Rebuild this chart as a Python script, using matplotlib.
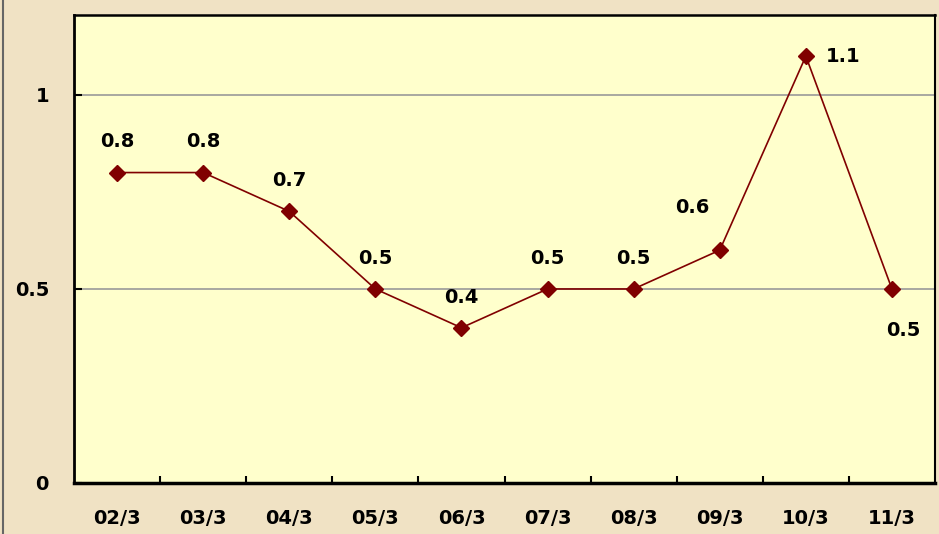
import matplotlib as mpl
import matplotlib.pyplot as plt
import numpy as np

mpl.rcParams['font.family'] = ['DejaVu Sans']

categories = ['02/3', '03/3', '04/3', '05/3', '06/3', '07/3', '08/3', '09/3', '10/3', '11/3']
values = [0.8, 0.8, 0.7, 0.5, 0.4, 0.5, 0.5, 0.6, 1.1, 0.5]
labels = ['0.8', '0.8', '0.7', '0.5', '0.4', '0.5', '0.5', '0.6', '1.1', '0.5']
# label offsets in points (dx, dy)
label_offsets = [(0, 22), (0, 22), (0, 22), (0, 22), (0, 22), (0, 22), (0, 22),
                 (-20, 31), (27, 0), (8, -30)]

fig = plt.figure(figsize=(9.39, 5.34), dpi=100)
fig.patch.set_facecolor('#f0e2c4')
ax = fig.add_axes([74 / 939, 1 - 483 / 534, 861 / 939, 468 / 534])
ax.set_facecolor('#ffffcc')

x = np.arange(len(categories))
ax.plot(x, values, color='#800000', linewidth=1.2, marker='D',
        markersize=8.5, markerfacecolor='#800000', markeredgecolor='#800000',
        zorder=5)

for xi, v, lab, (dx, dy) in zip(x, values, labels, label_offsets):
    ax.annotate(lab, (xi, v), xytext=(dx, dy), textcoords='offset points',
                ha='center', va='center', fontsize=14, fontweight='bold',
                color='black')

ax.set_xlim(-0.5, len(categories) - 0.5)
ax.set_ylim(0, 1.206)
ax.set_yticks([0, 0.5, 1])
ax.set_yticklabels(['0', '0.5', '1'])
ax.yaxis.grid(True, color='#999999', linewidth=1.2)
ax.set_axisbelow(True)

ax.set_xticks(x)
ax.set_xticklabels(categories)
ax.set_xticks(np.arange(0.5, len(categories) - 1, 1), minor=True)
ax.tick_params(axis='x', which='major', length=0, pad=19, labelsize=14)
ax.tick_params(axis='x', which='minor', direction='in', length=5, width=1.5)
ax.tick_params(axis='y', direction='in', length=6, width=1.5, pad=18,
               labelsize=14)
for t in ax.get_xticklabels() + ax.get_yticklabels():
    t.set_fontweight('bold')

ax.spines['left'].set_linewidth(2)
ax.spines['bottom'].set_linewidth(2.5)
ax.spines['top'].set_linewidth(1.8)
ax.spines['right'].set_linewidth(1.5)

# thin grey border at the left of the figure
fig.add_artist(plt.Line2D([2.5 / 939, 2.5 / 939], [0, 1], color='#666666',
                          linewidth=1.5, transform=fig.transFigure))

plt.savefig('out.png', dpi=100, facecolor=fig.get_facecolor())
